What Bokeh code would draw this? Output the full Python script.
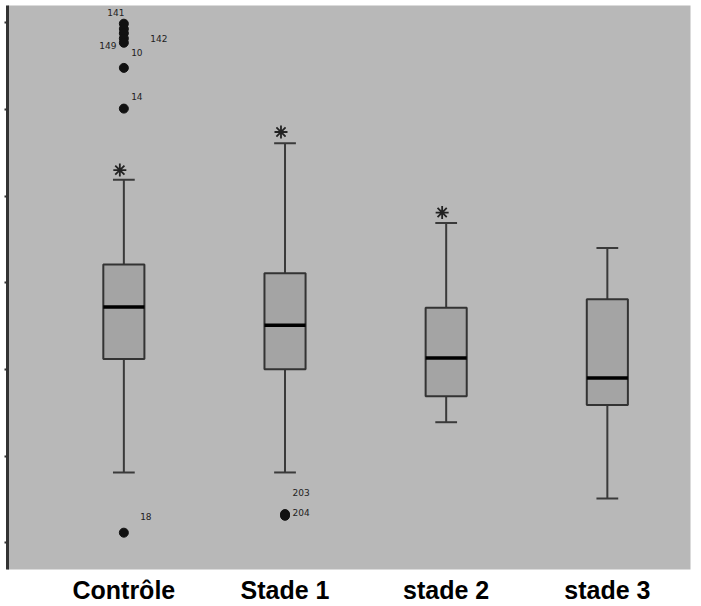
from bokeh.plotting import figure
from bokeh.models import ColumnDataSource, FixedTicker, CustomJSTickFormatter
from bokeh.core.properties import value
from bokeh.transform import dodge
from bokeh.embed import file_html
from bokeh.resources import INLINE

# ---- data (arbitrary units) ----
groups = ["Contrôle", "Stade 1", "stade 2", "stade 3"]
positions = [1, 2, 3, 4]
whisker_low = [8.1, 8.1, 13.9, 5.1]
q1 = [21.2, 20.0, 16.9, 15.9]
median = [27.2, 25.1, 21.3, 19.0]
q3 = [32.1, 31.1, 27.1, 28.1]
whisker_high = [41.9, 46.1, 36.9, 34.0]

# extreme values (asterisks)
extreme_pos = [1, 2, 3]
extreme_val = [43.0, 47.4, 38.1]

# outliers (dots)
outlier_pos = [1, 1, 1, 1, 1, 1, 1, 1, 2, 2]
outlier_val = [59.9, 59.3, 58.8, 58.2, 57.7, 54.8, 50.1, 1.15, 3.3, 3.1]

# case labels of some outliers
label_pos = [1, 1, 1, 1, 1, 1, 2, 2]
label_val = [59.9, 58.8, 57.7, 54.8, 50.1, 1.15, 3.3, 3.1]
label_txt = ["141", "142", "149", "10", "14", "18", "203", "204"]
label_dx = [-8, 35, -16, 13, 13, 22, 16, 16]
label_dy = [-11, 5, 3, -15, -12, -16, -22, -3]

y_ticks = [0, 10, 20, 30, 40, 50, 60]

BG = "#b8b8b8"
BOX = "#a4a4a4"
EDGE = "#333333"

box_w = 0.255
cap_w = 0.135

p = figure(width=695, height=606, output_backend="svg", toolbar_location=None,
           x_range=(0.278, 4.516), y_range=(-3.1, 62.0),
           min_border_left=7, min_border_right=5, min_border_top=5, min_border_bottom=0)
p.background_fill_color = BG
p.border_fill_color = "white"
p.outline_line_color = None
p.grid.visible = False

box_src = ColumnDataSource(dict(
    x=positions, lo=whisker_low, q1=q1, med=median, q3=q3, hi=whisker_high,
    x0=[x - box_w / 2 for x in positions], x1=[x + box_w / 2 for x in positions],
    c0=[x - cap_w / 2 for x in positions], c1=[x + cap_w / 2 for x in positions],
))

WH = "#3a3a3a"
# whiskers
p.segment(x0="x", y0="q3", x1="x", y1="hi", source=box_src, line_color=WH, line_width=2)
p.segment(x0="x", y0="q1", x1="x", y1="lo", source=box_src, line_color=WH, line_width=2)
# caps
p.segment(x0="c0", y0="hi", x1="c1", y1="hi", source=box_src, line_color=WH, line_width=2)
p.segment(x0="c0", y0="lo", x1="c1", y1="lo", source=box_src, line_color=WH, line_width=2)
# boxes
p.vbar(x="x", width=box_w, top="q3", bottom="q1", source=box_src,
       fill_color=BOX, line_color=EDGE, line_width=2)
# medians
p.segment(x0="x0", y0="med", x1="x1", y1="med", source=box_src, line_color="#000000", line_width=3.5)

# extremes
ext_src = ColumnDataSource(dict(x=extreme_pos, y=extreme_val))
p.scatter(x=dodge("x", -0.025), y="y", source=ext_src, marker="asterisk", size=13,
          line_color="#222222", line_width=1.8)

# outliers
out_src = ColumnDataSource(dict(x=outlier_pos, y=outlier_val))
p.scatter(x="x", y="y", source=out_src, marker="circle", size=9,
          fill_color="#111111", line_color="#111111")
lab_src = ColumnDataSource(dict(x=label_pos, y=label_val, t=label_txt, dx=label_dx, dy=label_dy))
p.text(x="x", y="y", text="t", x_offset="dx", y_offset="dy", source=lab_src,
       text_font=value("DejaVu Sans"), text_font_size="9px", text_color="#222222",
       text_align="center", text_baseline="middle")

# axes
p.xaxis.ticker = FixedTicker(ticks=positions)
p.xaxis.major_label_overrides = {pos: g for pos, g in zip(positions, groups)}
p.xaxis.major_label_text_font = "Liberation Sans"
p.xaxis.major_label_text_font_style = "bold"
p.xaxis.major_label_text_font_size = "25px"
p.xaxis.major_label_text_color = "#000000"
p.xaxis.major_label_standoff = 6
p.xaxis.major_tick_out = 0
p.xaxis.major_tick_in = 0
p.xaxis.axis_line_color = None
p.xaxis.major_tick_line_color = None
p.xaxis.minor_tick_line_color = None

p.yaxis.ticker = FixedTicker(ticks=y_ticks)
p.yaxis.formatter = CustomJSTickFormatter(code="return ''")
p.yaxis.major_label_standoff = 0
p.yaxis.axis_line_color = "#333333"
p.yaxis.axis_line_width = 3
p.yaxis.major_tick_in = 0
p.yaxis.major_tick_out = 3
p.yaxis.major_tick_line_color = "#333333"
p.yaxis.major_tick_line_width = 2
p.yaxis.minor_tick_line_color = None

open("out.html", "w").write(file_html(p, INLINE))
